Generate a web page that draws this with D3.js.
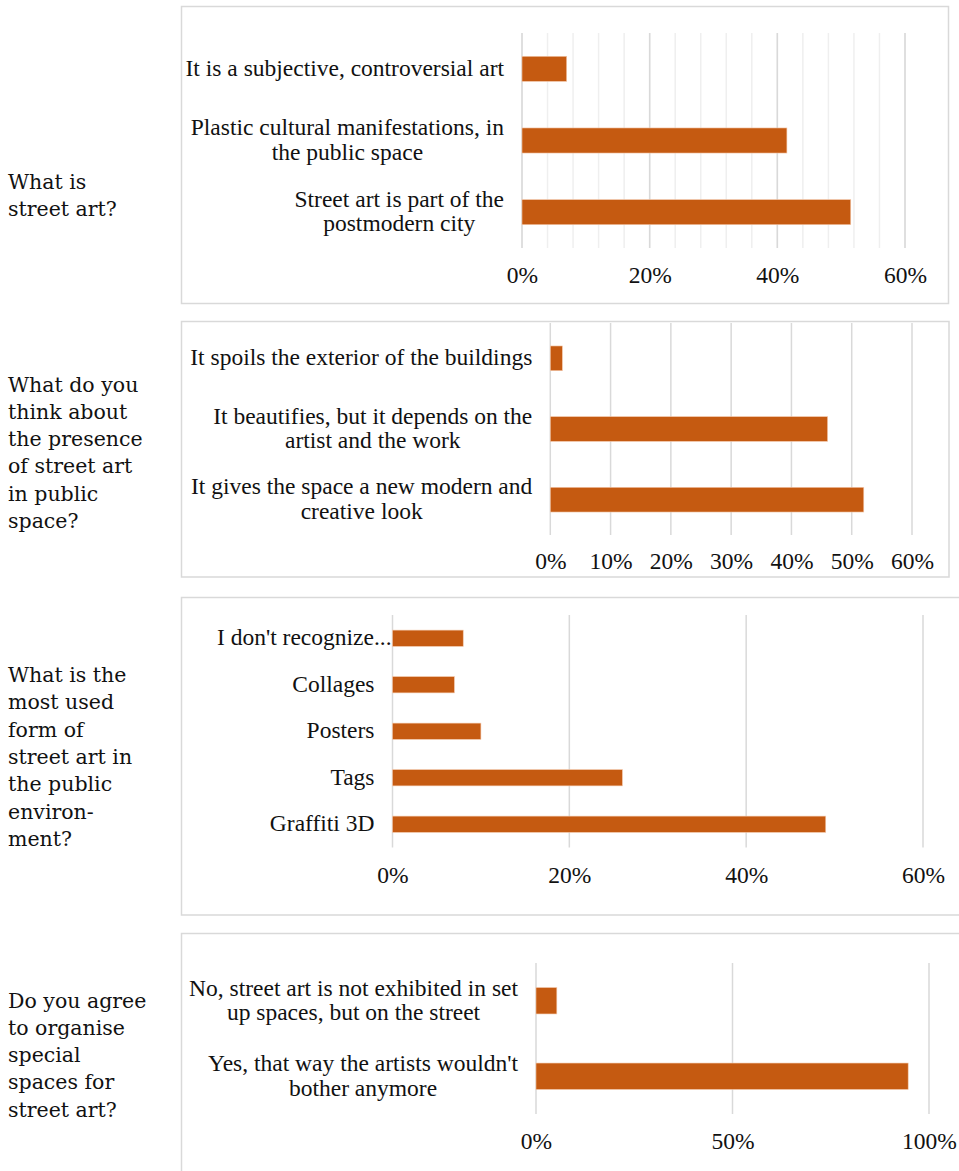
<!DOCTYPE html>
<html>
<head>
<meta charset="utf-8">
<script src="https://cdn.jsdelivr.net/npm/d3@7"></script>
<style>
  body { margin: 0; background: #fff; }
  svg { display: block; }
</style>
</head>
<body>
<svg id="chart" width="959" height="1171"></svg>
<script>
// data
const q1Question = ['What is', 'street art?']
const q1Labels = ['It is a subjective, controversial art', 'Plastic cultural manifestations, in\nthe public space', 'Street art is part of the\npostmodern city']
const q1Values = [0.07, 0.415, 0.515]
const q1Ticks = [0, 0.2, 0.4, 0.6]

const q2Question = ['What do you', 'think about', 'the presence', 'of street art', 'in public', 'space?']
const q2Labels = ['It spoils the exterior of the buildings', 'It beautifies, but it depends on the\nartist and the work', 'It gives the space a new modern and\ncreative look']
const q2Values = [0.02, 0.46, 0.52]
const q2Ticks = [0, 0.1, 0.2, 0.3, 0.4, 0.5, 0.6]

const q3Question = ['What is the', 'most used', 'form of', 'street art in', 'the public', 'environ-', 'ment?']
const q3Labels = ["I don't recognize...", 'Collages', 'Posters', 'Tags', 'Graffiti 3D']
const q3Values = [0.08, 0.07, 0.10, 0.26, 0.49]
const q3Ticks = [0, 0.2, 0.4, 0.6]

const q4Question = ['Do you agree', 'to organise', 'special', 'spaces for', 'street art?']
const q4Labels = ['No, street art is not exhibited in set\nup spaces, but on the street', "Yes, that way the artists wouldn't\nbother anymore"]
const q4Values = [0.053, 0.947]
const q4Ticks = [0, 0.5, 1]

const barColor = '#C55A11'
const gridColor = '#D9D9D9'
const minorColor = '#EFEFEF'
const textColor = '#111'
const chartFont = '"Liberation Serif", "Times New Roman", serif'
const questionFont = '"DejaVu Serif", Georgia, serif'
const fontSize = 23.5
const lineHeight = 24.5
const labelGap = 18

let svg = d3.select('#chart')

let drawQuestion = function (lines, y0) {
  let t = svg.append('text')
    .attr('x', 8)
    .attr('y', y0)
    .style('font-family', questionFont)
    .style('font-size', '20.5px')
    .style('fill', textColor)
  lines.forEach((ln, i) => {
    t.append('tspan')
      .attr('x', 8)
      .attr('y', y0 + i * 27.3)
      .text(ln)
  })
}

let drawPanel = function (cfg, labels, values, ticks) {
  // frame
  svg.append('rect')
    .attr('x', cfg.frame[0])
    .attr('y', cfg.frame[1])
    .attr('width', cfg.frame[2] - cfg.frame[0])
    .attr('height', cfg.frame[3] - cfg.frame[1])
    .style('fill', '#fff')
    .style('stroke', gridColor)
    .style('stroke-width', 1.5)

  let xScale = d3.scaleLinear()
    .domain([0, ticks[ticks.length - 1]])
    .range([cfg.x0, cfg.x1])
  let yScale = d3.scaleBand()
    .domain(labels)
    .range([cfg.top, cfg.bottom])
    .paddingInner(0.65)
    .paddingOuter(0.325)

  let g = svg.append('g')

  // minor grid (first panel only)
  if (cfg.minor) {
    let minorTicks = d3.range(0, ticks[ticks.length - 1] + 1e-9, cfg.minor)
    g.selectAll('.minor')
      .data(minorTicks)
      .enter()
      .append('line')
      .classed('minor', true)
      .attr('x1', d => xScale(d))
      .attr('x2', d => xScale(d))
      .attr('y1', cfg.top)
      .attr('y2', cfg.bottom)
      .style('stroke', minorColor)
      .style('stroke-width', 1.5)
  }
  g.selectAll('.grid')
    .data(ticks)
    .enter()
    .append('line')
    .classed('grid', true)
    .attr('x1', d => xScale(d))
    .attr('x2', d => xScale(d))
    .attr('y1', cfg.top)
    .attr('y2', cfg.bottom)
    .style('stroke', gridColor)
    .style('stroke-width', 1.5)

  // bars
  g.selectAll('.bar')
    .data(labels.map((l, i) => ({label: l, value: values[i]})))
    .enter()
    .append('rect')
    .classed('bar', true)
    .attr('x', xScale(0))
    .attr('y', d => yScale(d.label))
    .attr('width', d => xScale(d.value) - xScale(0))
    .attr('height', yScale.bandwidth())
    .style('fill', barColor)
    .style('stroke', '#F4C9AC')
    .style('stroke-width', 0.6)

  // x axis labels
  let xAxis = g.append('g')
    .attr('transform', `translate(0, ${cfg.tickY - 0.38 * fontSize})`)
    .call(d3.axisBottom(xScale).tickValues(ticks).tickFormat(d3.format('.0%')).tickSize(0).tickPadding(0))
  xAxis.select('.domain').remove()
  xAxis.selectAll('text')
    .style('font-family', chartFont)
    .style('font-size', fontSize + 'px')
    .style('fill', textColor)

  // category labels, wrapped lines centred on each other, block right aligned
  let yAxis = g.append('g')
    .attr('transform', `translate(${cfg.x0}, 0)`)
    .call(d3.axisLeft(yScale).tickSize(0).tickPadding(0))
  yAxis.select('.domain').remove()
  yAxis.selectAll('.tick text').each(function (d) {
    let t = d3.select(this)
    let lines = d.split('\n')
    t.text(null)
      .attr('dy', null)
      .style('font-family', chartFont)
      .style('font-size', fontSize + 'px')
      .style('fill', textColor)
    let offset = -(lines.length - 1) / 2 * lineHeight + 0.3 * fontSize
    lines.forEach((ln, i) => {
      t.append('tspan')
        .attr('x', 0)
        .attr('y', offset + i * lineHeight)
        .text(ln)
    })
    let w = d3.max(t.selectAll('tspan').nodes(), n => n.getComputedTextLength())
    let room = cfg.x0 - cfg.labelLeft
    let gap = Math.min(labelGap, room - w)
    t.attr('text-anchor', 'middle')
    t.selectAll('tspan').attr('x', -gap - w / 2)
  })
}

drawPanel({frame: [181.5, 6.5, 948.5, 303.5], x0: 522, x1: 905, top: 33, bottom: 248, tickY: 275, minor: 0.04, labelLeft: 181}, q1Labels, q1Values, q1Ticks)
drawPanel({frame: [181.5, 321.5, 949, 577], x0: 550.3, x1: 912, top: 323, bottom: 535, tickY: 561, labelLeft: 181}, q2Labels, q2Values, q2Ticks)
drawPanel({frame: [181.5, 597.5, 962, 915], x0: 392.5, x1: 923, top: 615, bottom: 847.5, tickY: 875, labelLeft: 217}, q3Labels, q3Values, q3Ticks)
drawPanel({frame: [181.5, 933.5, 962, 1180], x0: 536, x1: 929, top: 963, bottom: 1114, tickY: 1141, labelLeft: 181}, q4Labels, q4Values, q4Ticks)

drawQuestion(q1Question, 188.5)
drawQuestion(q2Question, 391.5)
drawQuestion(q3Question, 682)
drawQuestion(q4Question, 1007.5)
</script>
</body>
</html>
